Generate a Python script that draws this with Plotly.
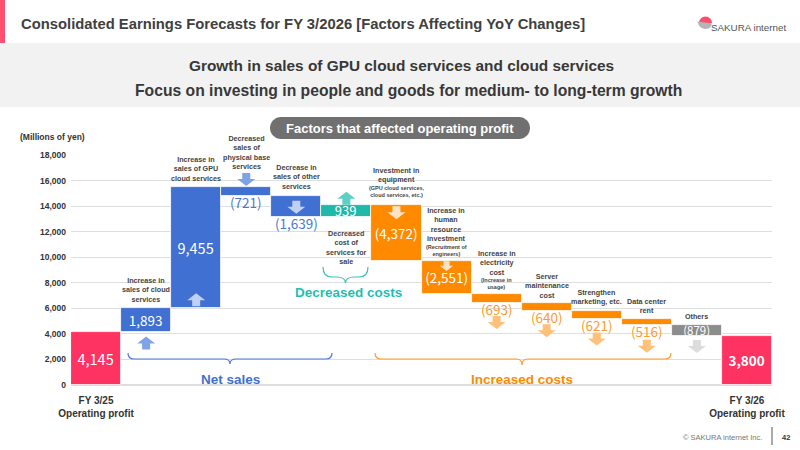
import plotly.graph_objects as go

# ---------------- data ----------------
categories = ["FY 3/25 Operating profit", "Increase in sales of cloud services",
              "Increase in sales of GPU cloud services", "Decreased sales of physical base services",
              "Decrease in sales of other services", "Decreased cost of services for sale",
              "Investment in equipment", "Increase in human resource investment",
              "Increase in electricity cost", "Server maintenance cost",
              "Strengthen marketing, etc.", "Data center rent", "Others",
              "FY 3/26 Operating profit"]
values = [4145, 1893, 9455, -721, -1639, 939, -4372, -2551, -693, -640, -621, -516, -879, 3800]
measures = ["total"] + ["relative"] * 12 + ["total"]
groups = ["total", "sales", "sales", "sales", "sales", "dcost", "cost", "cost", "cost",
          "cost", "cost", "cost", "other", "total"]
value_labels = ["4,145", "1,893", "9,455", "(721)", "(1,639)", "939", "(4,372)", "(2,551)",
                "(693)", "(640)", "(621)", "(516)", "(879)", "<b>3,800</b>"]
bar_notes = ["", "Increase in<br>sales of cloud<br>services", "Increase in<br>sales of GPU<br>cloud services",
             "Decreased<br>sales of<br>physical base<br>services", "Decrease in<br>sales of other<br>services",
             "Decreased<br>cost of<br>services for<br>sale", "Investment in<br>equipment",
             "Increase in<br>human<br>resource<br>investment", "Increase in<br>electricity<br>cost",
             "Server<br>maintenance<br>cost", "Strengthen<br>marketing, etc.", "Data center<br>rent",
             "Others", ""]
sub_notes = ["", "", "", "", "", "", "(GPU cloud services,<br>cloud services, etc.)",
             "(Recruitment of<br>engineers)", "(Increase in<br>usage)", "", "", "", "", ""]
x_tick_labels = ["FY 3/25<br>Operating profit", "FY 3/26<br>Operating profit"]
y_ticks = list(range(0, 18001, 2000))

# ---------------- styles ----------------
FONT = "Liberation Sans, Arial, sans-serif"
NUMFONT = "Noto Sans CJK JP, Noto Sans, sans-serif"
bar_colors = {"total": "#FF3361", "sales": "#4070D2", "dcost": "#1FB8AA",
              "cost": "#FF8A00", "other": "#8C8C8C"}
out_text_colors = {"sales": "#4A78D8", "cost": "#FF9A2E", "dcost": "#1FB8AA",
                   "other": "#8C8C8C", "total": "#FF3361"}
arrow_colors = {"sales": "#7FA3E6", "dcost": "#5DCFC4", "cost": "#FFC07A", "other": "#DCDCDC"}
arrow_inside_colors = {"sales": "#BFD0F0", "cost": "#FFE3C4", "dcost": "#BFEDE8", "other": "#EEEEEE"}
inside_flags = [True, True, True, False, False, True, True, True, False, False, False, False, True, True]
inside_sizes = [14.5, 13.5, 14.5, 13.5, 13.5, 13, 13.5, 13.5, 13.5, 13.5, 13.5, 13.5, 11.5, 13.5]
# arrow: (edge 'start'|'end', pixel offset of arrow centre, inside bar?, scale)
arrow_spec = [None, ("start", -11, False, 1.0), ("start", 8, True, 1.0), ("start", 7.5, False, 1.0),
              ("start", -11, True, 1.0), ("end", 7, False, 1.0), ("start", -7.5, True, 1.0),
              ("start", -5, True, 0.75),
              ("end", -20, False, 1.0), ("end", -20, False, 1.0), ("end", -20.5, False, 1.0),
              ("end", -21, False, 1.0), ("end", -10, False, 1.0), None]
label_shift = [0, 2, 1.8, 14.3, 3.3, -10, 19.3, 16.3, 14.9, 0.8, 3, 1.9, 1.8, 0]
note_shift = [0, 0, 0, 0, 0, 0, 5.4, 2.4, 1.6, 0, 0, 0, 0, 0]

# ---------------- waterfall geometry via bases ----------------
bases, ys = [], []
running = 0
for v, m in zip(values, measures):
    if m == "total":
        bases.append(0)
        ys.append(v)
        running = v
    else:
        bases.append(running)
        ys.append(v)
        running += v

xs = list(range(len(categories)))
colors = [bar_colors[g] for g in groups]
inside_text = [t if f else "" for t, f in zip(value_labels, inside_flags)]

fig = go.Figure()
fig.add_trace(go.Bar(
    x=xs, y=ys, base=bases, width=1.0,
    marker=dict(color=colors, line=dict(color="#FFFFFF", width=0.8)),
    text=inside_text, textposition="inside", insidetextanchor="middle",
    textfont=dict(family=NUMFONT, size=inside_sizes, color="#FFFFFF"),
    constraintext="none", cliponaxis=False, hoverinfo="skip",
    customdata=categories,
))

# ---------------- layout geometry helpers (pixels -> paper) ----------------
L, R, T, B = 71, 772, 155, 385
def px(x):
    return (x - L) / (R - L)
def py(y):
    return (B - y) / (B - T)

shapes = []
annotations = []

# header
shapes.append(dict(type="rect", xref="paper", yref="paper", x0=px(0), x1=px(800),
                   y0=py(107), y1=py(43), fillcolor="#F2F2F2", line=dict(width=0), layer="below"))
shapes.append(dict(type="rect", xref="paper", yref="paper", x0=px(0), x1=px(5),
                   y0=py(43), y1=py(0), fillcolor="#FF4D72", line=dict(width=0), layer="below"))
annotations.append(dict(text="Consolidated Earnings Forecasts for FY 3/2026 [Factors Affecting YoY Changes]",
                        xref="paper", yref="paper", x=px(19), y=py(24), xanchor="left", yanchor="middle",
                        showarrow=False, font=dict(family=FONT, size=14.8, color="#404040", weight="bold")))
annotations.append(dict(text="Growth in sales of GPU cloud services and cloud services",
                        xref="paper", yref="paper", x=px(401), y=py(65), xanchor="center", yanchor="middle",
                        showarrow=False, font=dict(family=FONT, size=15.4, color="#383838", weight="bold")))
annotations.append(dict(text="Focus on investing in people and goods for medium- to long-term growth",
                        xref="paper", yref="paper", x=px(408), y=py(90), xanchor="center", yanchor="middle",
                        showarrow=False, font=dict(family=FONT, size=15.7, color="#383838", weight="bold")))
# logo
shapes.append(dict(type="path", xref="paper", yref="paper",
                   path=f"M {px(699)},{py(23)} C {px(699)},{py(19.5)} {px(701.7)},{py(16.5)} {px(705.5)},{py(16.5)} "
                        f"C {px(709.3)},{py(16.5)} {px(712)},{py(19.5)} {px(712)},{py(23)} Z",
                   fillcolor="#FF4D6D", line=dict(width=0)))
shapes.append(dict(type="path", xref="paper", yref="paper",
                   path=f"M {px(697.5)},{py(21.5)} L {px(712)},{py(23.5)} Q {px(711)},{py(29)} {px(705)},{py(29)} "
                        f"Q {px(699)},{py(28.5)} {px(697.5)},{py(21.5)} Z",
                   fillcolor="#B5B5B5", line=dict(width=0)))
annotations.append(dict(text="SAKURA internet", xref="paper", yref="paper", x=px(708.5), y=py(27.5),
                        xanchor="left", yanchor="middle", showarrow=False,
                        font=dict(family=FONT, size=9.8, color="#555555")))

# pill title
def rounded_rect(x0, y0, x1, y1, r):
    k = 0.5523 * r
    p = [f"M {px(x0 + r)},{py(y0)}", f"L {px(x1 - r)},{py(y0)}",
         f"C {px(x1 - r + k)},{py(y0)} {px(x1)},{py(y0 + r - k)} {px(x1)},{py(y0 + r)}",
         f"L {px(x1)},{py(y1 - r)}",
         f"C {px(x1)},{py(y1 - r + k)} {px(x1 - r + k)},{py(y1)} {px(x1 - r)},{py(y1)}",
         f"L {px(x0 + r)},{py(y1)}",
         f"C {px(x0 + r - k)},{py(y1)} {px(x0)},{py(y1 - r + k)} {px(x0)},{py(y1 - r)}",
         f"L {px(x0)},{py(y0 + r)}",
         f"C {px(x0)},{py(y0 + r - k)} {px(x0 + r - k)},{py(y0)} {px(x0 + r)},{py(y0)} Z"]
    return " ".join(p)
shapes.append(dict(type="path", xref="paper", yref="paper", path=rounded_rect(270, 117, 530, 139, 11),
                   fillcolor="#707070", line=dict(width=0)))
annotations.append(dict(text="Factors that affected operating profit", xref="paper", yref="paper",
                        x=px(400), y=py(128.5), xanchor="center", yanchor="middle", showarrow=False,
                        font=dict(family=FONT, size=13, color="#FFFFFF", weight="bold")))
annotations.append(dict(text="(Millions of yen)", xref="paper", yref="paper", x=px(52), y=py(137),
                        xanchor="center", yanchor="middle", showarrow=False,
                        font=dict(family=FONT, size=8.5, color="#333333", weight="bold")))

# footer
annotations.append(dict(text="© SAKURA internet Inc.", xref="paper", yref="paper", x=px(764), y=py(437),
                        xanchor="right", yanchor="middle", showarrow=False,
                        font=dict(family=FONT, size=7.5, color="#777777")))
shapes.append(dict(type="line", xref="paper", yref="paper", x0=px(772), x1=px(772), y0=py(427), y1=py(445),
                   line=dict(color="#555555", width=1)))
annotations.append(dict(text="<b>42</b>", xref="paper", yref="paper", x=px(780), y=py(437),
                        xanchor="left", yanchor="middle", showarrow=False,
                        font=dict(family=FONT, size=7.5, color="#333333")))

# arrows anchored to bars (pixel-sized paths)
def arrow_path(up, dy, sc):
    s = 1 if up else -1
    pts = [(-4, -6.5), (4, -6.5), (4, -0.5), (9, -0.5), (0, 6.5), (-9, -0.5), (-4, -0.5)]
    return "M " + " L ".join(f"{x * sc},{s * y * sc + dy}" for x, y in pts) + " Z"

for i, spec in enumerate(arrow_spec):
    if spec is None:
        continue
    edge, off, inside, sc = spec
    start = bases[i]
    end = bases[i] + ys[i]
    anchor = start if edge == "start" else end
    col = (arrow_inside_colors if inside else arrow_colors)[groups[i]]
    shapes.append(dict(type="path", xref="x", yref="y", xsizemode="pixel", ysizemode="pixel",
                       xanchor=xs[i], yanchor=anchor, path=arrow_path(ys[i] > 0, off, sc),
                       fillcolor=col, line=dict(width=0)))

# value labels that sit below their bars
for i, f in enumerate(inside_flags):
    if f:
        continue
    bot = min(bases[i], bases[i] + ys[i])
    annotations.append(dict(text=value_labels[i], x=xs[i], y=bot, xref="x", yref="y",
                            xanchor="center", yanchor="middle", yshift=-6, showarrow=False,
                            font=dict(family=NUMFONT, size=13.5, color=out_text_colors[groups[i]])))

# bar description labels
for i, txt in enumerate(bar_notes):
    if not txt:
        continue
    top = max(bases[i], bases[i] + ys[i])
    bot = min(bases[i], bases[i] + ys[i])
    if label_shift[i] < 0:
        annotations.append(dict(text=txt, x=xs[i], y=bot, xref="x", yref="y", xanchor="center",
                                yanchor="top", yshift=label_shift[i], showarrow=False,
                                font=dict(family=FONT, size=7.2, color="#444444", weight="bold")))
    else:
        annotations.append(dict(text=txt, x=xs[i], y=top, xref="x", yref="y", xanchor="center",
                                yanchor="bottom", yshift=label_shift[i], showarrow=False,
                                font=dict(family=FONT, size=7.2, color="#444444", weight="bold")))
    if sub_notes[i]:
        annotations.append(dict(text=sub_notes[i], x=xs[i], y=top, xref="x", yref="y", xanchor="center",
                                yanchor="bottom", yshift=note_shift[i], showarrow=False,
                                font=dict(family=FONT, size=5.5, color="#444444", weight="bold")))

# braces
def brace(x0, x1, yt, ym, tip, cx, r):
    return (f"M {px(x0)},{py(yt)} Q {px(x0)},{py(ym)} {px(x0 + r)},{py(ym)} "
            f"L {px(cx - r)},{py(ym)} Q {px(cx)},{py(ym)} {px(cx)},{py(tip)} "
            f"Q {px(cx)},{py(ym)} {px(cx + r)},{py(ym)} "
            f"L {px(x1 - r)},{py(ym)} Q {px(x1)},{py(ym)} {px(x1)},{py(yt)}")

shapes.append(dict(type="path", xref="paper", yref="paper", path=brace(128, 332, 353, 359, 364, 230, 6),
                   line=dict(color="#4A78D8", width=1.2)))
shapes.append(dict(type="path", xref="paper", yref="paper", path=brace(375, 671, 353, 359, 365, 522, 6),
                   line=dict(color="#FF9A2E", width=1.2)))
shapes.append(dict(type="path", xref="paper", yref="paper", path=brace(323, 368, 267, 277, 283, 345.5, 9),
                   line=dict(color="#35C4BA", width=1.2)))
annotations.append(dict(text="Net sales", xref="paper", yref="paper", x=px(230), y=py(379),
                        xanchor="center", yanchor="middle", showarrow=False,
                        font=dict(family=FONT, size=13.5, color="#4070D2", weight="bold")))
annotations.append(dict(text="Increased costs", xref="paper", yref="paper", x=px(522), y=py(379),
                        xanchor="center", yanchor="middle", showarrow=False,
                        font=dict(family=FONT, size=13.5, color="#FF8A00", weight="bold")))
annotations.append(dict(text="Decreased costs", xref="paper", yref="paper", x=px(348), y=py(292),
                        xanchor="center", yanchor="middle", showarrow=False,
                        font=dict(family=FONT, size=13.5, color="#1FBFB2", weight="bold")))

fig.update_layout(
    width=800, height=450, margin=dict(l=L, r=800 - R, t=T, b=450 - B),
    paper_bgcolor="#FFFFFF", plot_bgcolor="#FFFFFF", showlegend=False, bargap=0,
    shapes=shapes, annotations=annotations,
    xaxis=dict(range=[-0.5, len(categories) - 0.5], tickvals=[xs[0], xs[-1]], ticktext=x_tick_labels,
               showgrid=False, zeroline=False, showline=False, ticks="", ticklabelstandoff=8,
               tickfont=dict(family=FONT, size=10, color="#333333", weight="bold")),
    yaxis=dict(range=[0, 18000], tickvals=y_ticks, tickformat=",", showgrid=True,
               gridcolor="#DEDEDE", gridwidth=1, zeroline=True, zerolinecolor="#DEDEDE",
               showline=False, ticks="", ticklabelstandoff=4,
               tickfont=dict(family=FONT, size=8.5, color="#333333", weight="bold")),
)

fig.write_html("out.html")
